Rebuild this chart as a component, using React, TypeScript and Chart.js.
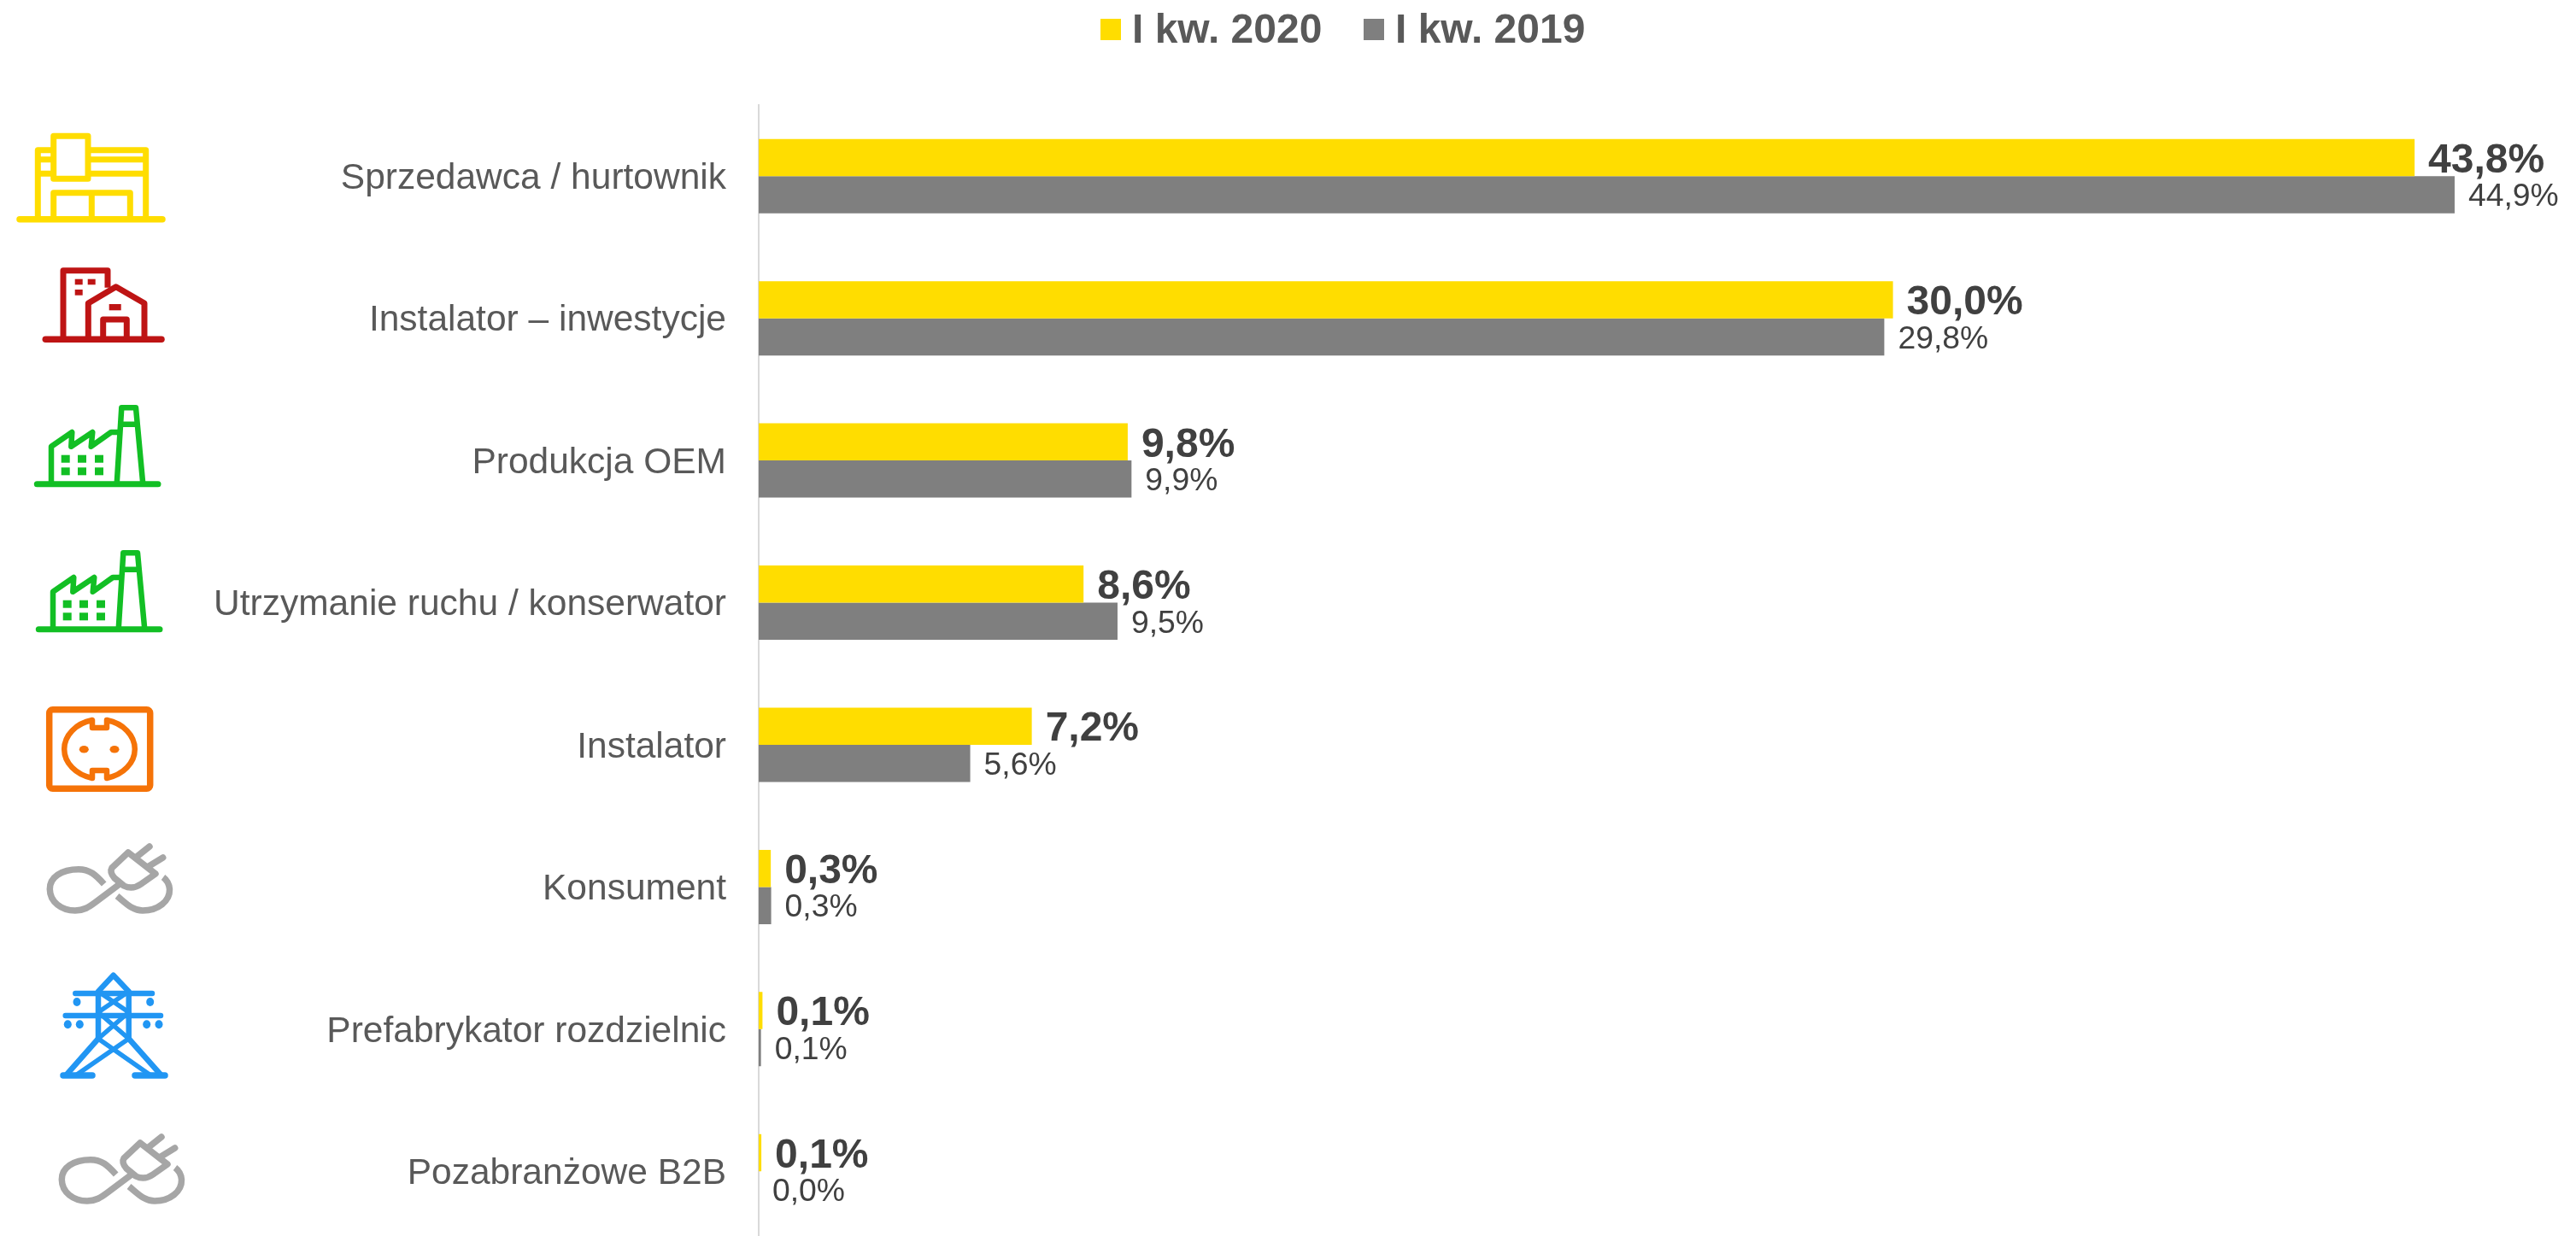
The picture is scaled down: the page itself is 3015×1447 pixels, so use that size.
import React, { useEffect, useRef } from "react";
import { Chart, registerables } from "chart.js";

Chart.register(...registerables);

const categories = [
  "Sprzedawca / hurtownik",
  "Instalator – inwestycje",
  "Produkcja OEM",
  "Utrzymanie ruchu / konserwator",
  "Instalator",
  "Konsument",
  "Prefabrykator rozdzielnic",
  "Pozabranżowe B2B",
];
const series2020 = [43.84, 30.03, 9.77, 8.6, 7.23, 0.32, 0.1, 0.07];
const series2019 = [44.9, 29.8, 9.87, 9.5, 5.6, 0.33, 0.06, 0.0];
const label2020 = "I kw. 2020";
const label2019 = "I kw. 2019";

const YELLOW = "#FFDD00";
const GRAY = "#7F7F7F";
const FONT = '"Liberation Sans", Arial, sans-serif';

const fmt = (v: number) => v.toFixed(1).replace(".", ",") + "%";

const valueLabels = {
  id: "valueLabels",
  afterDatasetsDraw(chart: any) {
    const { ctx } = chart;
    ctx.save();
    ctx.textAlign = "left";
    ctx.textBaseline = "middle";
    chart.data.datasets.forEach((ds: any, di: number) => {
      const meta = chart.getDatasetMeta(di);
      ctx.font = di === 0 ? `bold 48px ${FONT}` : `37.3px ${FONT}`;
      ctx.fillStyle = "#404040";
      meta.data.forEach((el: any, i: number) => {
        ctx.fillText(fmt(ds.data[i]), el.x + 16, el.y + (di === 0 ? 4 : 3));
      });
    });
    ctx.restore();
  },
};

const nudgeCategoryLabels = {
  id: "nudgeCategoryLabels",
  beforeDraw(chart: any) {
    const items = chart.scales.y.getLabelItems(chart.chartArea);
    items.forEach((item: any) => {
      if (!item.nudged) {
        item.options.translation[1] += 3;
        item.nudged = true;
      }
    });
  },
};

const topLegend = {
  id: "topLegend",
  afterDraw(chart: any) {
    const { ctx } = chart;
    const xs = [1288, 1596];
    ctx.save();
    ctx.font = `bold 48px ${FONT}`;
    ctx.textAlign = "left";
    ctx.textBaseline = "alphabetic";
    chart.data.datasets.forEach((ds: any, i: number) => {
      ctx.fillStyle = ds.backgroundColor;
      ctx.fillRect(xs[i], 22, 24, 25);
      ctx.fillStyle = "#595959";
      ctx.fillText(ds.label, xs[i] + 37, 50);
    });
    ctx.restore();
  },
};

function Plug({ dx, dy }: { dx: number; dy: number }) {
  return (
    <g transform={`translate(${dx} ${dy})`} fill="none" stroke="#A6A6A6" strokeWidth={7.5} strokeLinecap="round" strokeLinejoin="round">
      <path d="M121.7 1035 C112 1024 105 1017.7 92 1017.7 C72 1017.7 58 1027 58.3 1041 C58.5 1056 72 1066 88 1066 C98 1066 104 1062 112 1056 L140 1035" strokeLinecap="butt" />
      <path d="M137 1049 C148 1058 155 1066 167 1066 C185 1066 199 1055 198.5 1041 C198 1035 195 1030 191 1027" strokeLinecap="butt" />
      <path d="M150 998 L131 1016 Q128 1021 134 1028 L145 1037 Q155 1042 165 1035 L182 1023 Z" />
      <path d="M160 1003 L175 991 M172.7 1015 L190.7 1004" />
    </g>
  );
}

function Factory({ dx, dy }: { dx: number; dy: number }) {
  const cellXs = [71.7, 91, 111];
  const cellYs = [532.7, 547.3];
  return (
    <g transform={`translate(${dx} ${dy})`} fill="none" stroke="#12BF24" strokeWidth={6.5} strokeLinejoin="round">
      <path d="M43.3 566.7 H185" strokeWidth={7} strokeLinecap="round" />
      <path d="M136.7 566.7 L142.3 477.3 H159 L167.3 566.7 M141 496.7 H160.5" />
      <path d="M60 566.7 V522.7 L84.3 506 L83.3 522.7 L108.3 506 L106.7 522.7 L130 506 H140" />
      {cellXs.flatMap((x) =>
        cellYs.map((y) => <rect key={`${x}-${y}`} x={x} y={y} width={10} height={9} fill="#12BF24" stroke="none" />)
      )}
    </g>
  );
}

function Icons() {
  return (
    <svg width={3015} height={1447} style={{ position: "absolute", left: 0, top: 0, pointerEvents: "none" }}>
      <g fill="none" stroke={YELLOW} strokeWidth={7} strokeLinejoin="round">
        <path d="M23 256.7 H190" strokeWidth={7.5} strokeLinecap="round" />
        <rect x={62.7} y={159.3} width={40.3} height={50} />
        <path d="M62.7 175.7 H44.3 V256.7 M103 175.7 H170.7 V256.7 M44.3 186.7 H62.7 M103 186.7 H170.7 M44.3 203.3 H62.7 M103 203.3 H170.7" />
        <path d="M62.7 256.7 V225.7 H152.3 V256.7 M107.3 225.7 V256.7" />
      </g>
      <g fill="none" stroke="#BE1414" strokeWidth={7} strokeLinejoin="round">
        <path d="M53.3 397.3 H189" strokeWidth={7.5} strokeLinecap="round" />
        <path d="M74 397.3 V316.7 H126 V336.7" />
        <path d="M103.3 397.3 V355 L135.7 335.7 L169 355 V397.3" />
        <path d="M120.7 397.3 V374 H148.3 V397.3" />
        <rect x={127.7} y={356} width={14} height={7.3} fill="#BE1414" stroke="none" />
        <rect x={87.7} y={326.7} width={9} height={6.6} fill="#BE1414" stroke="none" />
        <rect x={102.7} y={326.7} width={9} height={6.6} fill="#BE1414" stroke="none" />
        <rect x={87.7} y={339} width={9} height={6.7} fill="#BE1414" stroke="none" />
      </g>
      <Factory dx={0} dy={0} />
      <Factory dx={2} dy={170} />
      <g fill="none" stroke="#F57308" strokeLinejoin="round">
        <rect x={57.7} y={830.7} width={118} height={92.6} rx={4} strokeWidth={7.5} />
        <path d="M108 843 V852 H125 V843 A43 35 0 0 1 125 911 V902 H108 V911 A43 35 0 0 1 108 843 Z" strokeWidth={6.5} />
        <ellipse cx={98.3} cy={877.3} rx={5.5} ry={4.3} fill="#F57308" stroke="none" />
        <ellipse cx={134} cy={877.3} rx={5.5} ry={4.3} fill="#F57308" stroke="none" />
      </g>
      <Plug dx={0} dy={0} />
      <Plug dx={14} dy={340} />
      <g fill="none" stroke="#2196F3" strokeWidth={5.5} strokeLinejoin="round">
        <path d="M74 1259 H108 M158 1259 H193" strokeWidth={7.5} strokeLinecap="round" />
        <path d="M88.3 1163 H178 M76.7 1189 H188" strokeWidth={6.5} strokeLinecap="round" />
        <path d="M115 1216 V1160.7 L132.7 1141.7 L150.7 1160.7 V1216" strokeWidth={6.5} />
        <path d="M115 1216 L78 1258 M150.7 1216 L188 1258" strokeWidth={6.5} />
        <path d="M115 1160.7 L150.7 1185 L115 1216 M150.7 1160.7 L115 1185 L150.7 1216 M115 1216 L175 1258 M150.7 1216 L90 1258" />
        <g fill="#2196F3" stroke="none">
          <ellipse cx={90} cy={1173} rx={4.5} ry={5} />
          <ellipse cx={175.7} cy={1173} rx={4.5} ry={5} />
          <ellipse cx={79.3} cy={1199.3} rx={4.5} ry={5} />
          <ellipse cx={93.3} cy={1199.3} rx={4.5} ry={5} />
          <ellipse cx={171.7} cy={1199.3} rx={4.5} ry={5} />
          <ellipse cx={186} cy={1199.3} rx={4.5} ry={5} />
        </g>
      </g>
    </svg>
  );
}

export default function App() {
  const ref = useRef<HTMLCanvasElement | null>(null);
  useEffect(() => {
    document.body.style.margin = "0";
    document.documentElement.style.overflow = "hidden";
    const chart = new Chart(ref.current as HTMLCanvasElement, {
      type: "bar",
      data: {
        labels: categories,
        datasets: [
          { label: label2020, data: series2020, backgroundColor: YELLOW, categoryPercentage: 0.523, barPercentage: 1 },
          { label: label2019, data: series2019, backgroundColor: GRAY, categoryPercentage: 0.523, barPercentage: 1 },
        ],
      },
      options: {
        indexAxis: "y",
        animation: false,
        responsive: false,
        layout: { padding: { top: 123, right: 5, left: 0, bottom: 0 } },
        plugins: { legend: { display: false }, tooltip: { enabled: false } },
        scales: {
          x: { display: false, min: 0, max: 48 },
          y: {
            afterFit: (s: any) => {
              s.width = 888;
            },
            grid: { display: false, drawTicks: false },
            border: { display: true, color: "#D9D9D9", width: 2 },
            ticks: {
              padding: 38,
              color: "#595959",
              font: { family: FONT, size: 42.5 },
              autoSkip: false,
            },
          },
        },
      },
      plugins: [nudgeCategoryLabels, valueLabels, topLegend],
    } as any);
    return () => chart.destroy();
  }, []);
  return (
    <div style={{ position: "fixed", left: 0, top: 0, width: 3015, height: 1447, overflow: "hidden", background: "#fff" }}>
      <canvas ref={ref} width={3015} height={1518} style={{ display: "block", width: 3015, height: 1518 }} />
      <Icons />
    </div>
  );
}
